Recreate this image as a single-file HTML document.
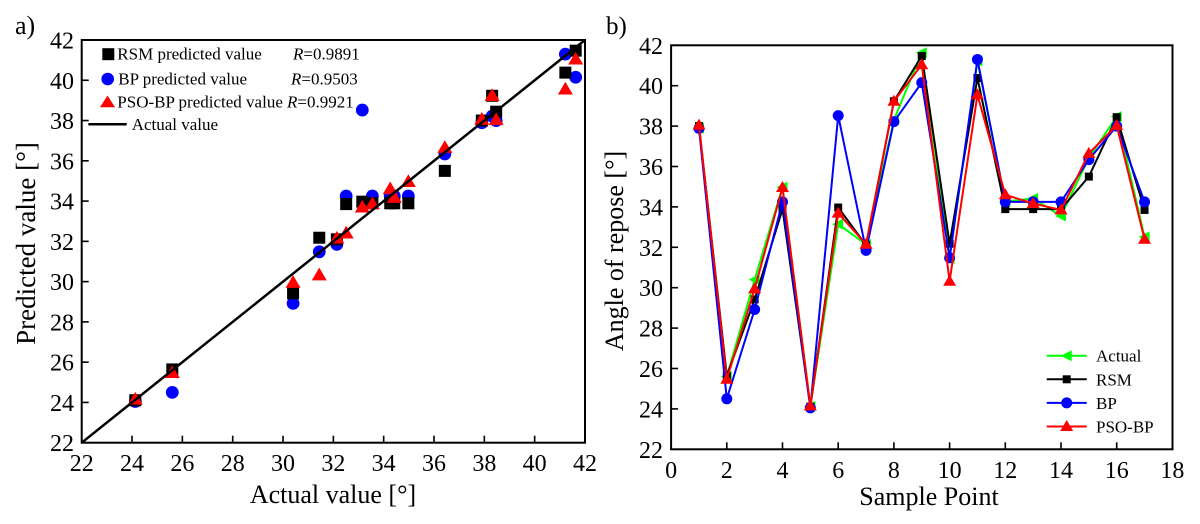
<!DOCTYPE html>
<html><head><meta charset="utf-8"><style>
html,body{margin:0;padding:0;background:#fff;}
svg{display:block;font-family:"Liberation Serif","Times New Roman",serif;}
</style></head><body>
<svg width="1200" height="524" viewBox="0 0 1200 524" xmlns="http://www.w3.org/2000/svg" font-family="'Liberation Serif', 'Times New Roman', serif">
<defs>
<rect id="sqL" x="-6" y="-6" width="12" height="12" fill="#000"/>
<circle id="ciL" cx="0" cy="0" r="6.4" fill="#0000ff"/>
<polygon id="trL" points="0,-7.5 -7.5,5.2 7.5,5.2" fill="#ff0000"/>
<rect id="sqR" x="-4" y="-4" width="8" height="8" fill="#000"/>
<circle id="ciR" cx="0" cy="0" r="5.5" fill="#0000ff"/>
<polygon id="trR" points="0,-6.5 -6.5,4.5 6.5,4.5" fill="#ff0000"/>
<polygon id="gtR" points="-6,0 5,-5.5 5,5.5" fill="#00ff00"/>
</defs>

<!-- ============ LEFT PLOT ============ -->
<text x="15" y="34" font-size="26">a)</text>
<g stroke="#000" stroke-width="1.6">
<line x1="132.03" y1="442.7" x2="132.03" y2="435.7"/>
<line x1="182.36" y1="442.7" x2="182.36" y2="435.7"/>
<line x1="232.69" y1="442.7" x2="232.69" y2="435.7"/>
<line x1="283.02" y1="442.7" x2="283.02" y2="435.7"/>
<line x1="333.35" y1="442.7" x2="333.35" y2="435.7"/>
<line x1="383.68" y1="442.7" x2="383.68" y2="435.7"/>
<line x1="434.01" y1="442.7" x2="434.01" y2="435.7"/>
<line x1="484.34" y1="442.7" x2="484.34" y2="435.7"/>
<line x1="534.67" y1="442.7" x2="534.67" y2="435.7"/>
<line x1="81.7" y1="402.43" x2="88.7" y2="402.43"/>
<line x1="81.7" y1="362.16" x2="88.7" y2="362.16"/>
<line x1="81.7" y1="321.89" x2="88.7" y2="321.89"/>
<line x1="81.7" y1="281.62" x2="88.7" y2="281.62"/>
<line x1="81.7" y1="241.35" x2="88.7" y2="241.35"/>
<line x1="81.7" y1="201.08" x2="88.7" y2="201.08"/>
<line x1="81.7" y1="160.81" x2="88.7" y2="160.81"/>
<line x1="81.7" y1="120.54" x2="88.7" y2="120.54"/>
<line x1="81.7" y1="80.27" x2="88.7" y2="80.27"/>
</g>
<rect x="81.7" y="40" width="503.3" height="402.7" fill="none" stroke="#000" stroke-width="2"/>
<g font-size="24" text-anchor="middle">
<text x="81.7" y="471">22</text>
<text x="132.03" y="471">24</text>
<text x="182.36" y="471">26</text>
<text x="232.69" y="471">28</text>
<text x="283.02" y="471">30</text>
<text x="333.35" y="471">32</text>
<text x="383.68" y="471">34</text>
<text x="434.01" y="471">36</text>
<text x="484.34" y="471">38</text>
<text x="534.67" y="471">40</text>
<text x="585" y="471">42</text>
</g>
<g font-size="24" text-anchor="end">
<text x="74" y="451.2">22</text>
<text x="74" y="410.9">24</text>
<text x="74" y="370.7">26</text>
<text x="74" y="330.4">28</text>
<text x="74" y="290.1">30</text>
<text x="74" y="249.9">32</text>
<text x="74" y="209.6">34</text>
<text x="74" y="169.3">36</text>
<text x="74" y="129">38</text>
<text x="74" y="88.8">40</text>
<text x="74" y="48.5">42</text>
</g>
<text x="333" y="503" font-size="26" text-anchor="middle">Actual value [°]</text>
<text transform="translate(35,243.5) rotate(-90)" font-size="27" text-anchor="middle">Predicted value [°]</text>

<g>
<use href="#ciL" x="481.82" y="122.75"/><use href="#ciL" x="172.29" y="392.36"/><use href="#ciL" x="293.09" y="303.37"/>
<use href="#ciL" x="408.34" y="196.05"/><use href="#ciL" x="135.3" y="401.42"/><use href="#ciL" x="362.29" y="110.07"/>
<use href="#ciL" x="336.87" y="244.37"/><use href="#ciL" x="492.14" y="116.11"/><use href="#ciL" x="575.69" y="77.25"/>
<use href="#ciL" x="319.26" y="251.82"/><use href="#ciL" x="565.37" y="54.09"/><use href="#ciL" x="390.22" y="196.05"/>
<use href="#ciL" x="394.25" y="196.05"/><use href="#ciL" x="372.36" y="196.05"/><use href="#ciL" x="444.83" y="153.96"/>
<use href="#ciL" x="496.17" y="120.54"/><use href="#ciL" x="346.18" y="196.05"/>
</g>
<g>
<use href="#sqL" x="481.82" y="120.54"/><use href="#sqL" x="172.29" y="369.41"/><use href="#sqL" x="293.09" y="293.3"/>
<use href="#sqL" x="408.34" y="203.29"/><use href="#sqL" x="135.3" y="400.22"/><use href="#sqL" x="362.29" y="201.68"/>
<use href="#sqL" x="336.87" y="239.34"/><use href="#sqL" x="492.14" y="95.77"/><use href="#sqL" x="575.69" y="50.67"/>
<use href="#sqL" x="319.26" y="237.73"/><use href="#sqL" x="565.37" y="72.62"/><use href="#sqL" x="390.22" y="203.29"/>
<use href="#sqL" x="394.25" y="203.29"/><use href="#sqL" x="372.36" y="203.29"/><use href="#sqL" x="444.83" y="170.88"/>
<use href="#sqL" x="496.17" y="111.68"/><use href="#sqL" x="346.18" y="204.1"/>
</g>
<g>
<use href="#trL" x="481.82" y="119.53"/><use href="#trL" x="172.29" y="372.83"/><use href="#trL" x="293.09" y="282.63"/>
<use href="#trL" x="408.34" y="181.75"/><use href="#trL" x="135.3" y="399.41"/><use href="#trL" x="362.29" y="207.32"/>
<use href="#trL" x="336.87" y="238.33"/><use href="#trL" x="492.14" y="95.77"/><use href="#trL" x="575.69" y="59.33"/>
<use href="#trL" x="319.26" y="275.18"/><use href="#trL" x="565.37" y="89.33"/><use href="#trL" x="390.22" y="189"/>
<use href="#trL" x="394.25" y="197.66"/><use href="#trL" x="372.36" y="204.1"/><use href="#trL" x="444.83" y="147.72"/>
<use href="#trL" x="496.17" y="119.93"/><use href="#trL" x="346.18" y="233.3"/>
</g>
<line x1="81.7" y1="442.7" x2="585" y2="40" stroke="#000" stroke-width="2.5"/>

<rect x="102.3" y="48.2" width="12" height="12" fill="#000"/>
<circle cx="107.7" cy="79" r="6.3" fill="#0000ff"/>
<polygon points="107.5,95.5 100,107.3 115,107.3" fill="#ff0000"/>
<line x1="88.3" y1="124.3" x2="126.7" y2="124.3" stroke="#000" stroke-width="2.5"/>
<g font-size="17">
<text x="117.3" y="59.3">RSM predicted value</text>
<text x="293" y="59.3"><tspan font-style="italic">R</tspan>=0.9891</text>
<text x="118.3" y="84.3">BP predicted value</text>
<text x="291" y="84.3"><tspan font-style="italic">R</tspan>=0.9503</text>
<text x="117.3" y="107.3">PSO-BP predicted value</text>
<text x="287" y="107.3"><tspan font-style="italic">R</tspan>=0.9921</text>
<text x="131.7" y="130">Actual value</text>
</g>

<!-- ============ RIGHT PLOT ============ -->
<text x="606" y="34" font-size="25">b)</text>
<g stroke="#000" stroke-width="1.6">
<line x1="726.8" y1="449.3" x2="726.8" y2="442.3"/>
<line x1="782.5" y1="449.3" x2="782.5" y2="442.3"/>
<line x1="838.2" y1="449.3" x2="838.2" y2="442.3"/>
<line x1="893.9" y1="449.3" x2="893.9" y2="442.3"/>
<line x1="949.6" y1="449.3" x2="949.6" y2="442.3"/>
<line x1="1005.3" y1="449.3" x2="1005.3" y2="442.3"/>
<line x1="1061" y1="449.3" x2="1061" y2="442.3"/>
<line x1="1116.7" y1="449.3" x2="1116.7" y2="442.3"/>
<line x1="671.1" y1="408.9" x2="678.1" y2="408.9"/>
<line x1="671.1" y1="368.5" x2="678.1" y2="368.5"/>
<line x1="671.1" y1="328.1" x2="678.1" y2="328.1"/>
<line x1="671.1" y1="287.7" x2="678.1" y2="287.7"/>
<line x1="671.1" y1="247.3" x2="678.1" y2="247.3"/>
<line x1="671.1" y1="206.9" x2="678.1" y2="206.9"/>
<line x1="671.1" y1="166.5" x2="678.1" y2="166.5"/>
<line x1="671.1" y1="126.1" x2="678.1" y2="126.1"/>
<line x1="671.1" y1="85.7" x2="678.1" y2="85.7"/>
</g>
<rect x="671.1" y="45.3" width="501.4" height="404" fill="none" stroke="#000" stroke-width="2"/>
<g font-size="24" text-anchor="middle">
<text x="671.1" y="478">0</text>
<text x="726.8" y="478">2</text>
<text x="782.5" y="478">4</text>
<text x="838.2" y="478">6</text>
<text x="893.9" y="478">8</text>
<text x="949.6" y="478">10</text>
<text x="1005.3" y="478">12</text>
<text x="1061" y="478">14</text>
<text x="1116.7" y="478">16</text>
<text x="1172.4" y="478">18</text>
</g>
<g font-size="24" text-anchor="end">
<text x="663" y="457.8">22</text>
<text x="663" y="417.4">24</text>
<text x="663" y="377">26</text>
<text x="663" y="336.6">28</text>
<text x="663" y="296.2">30</text>
<text x="663" y="255.8">32</text>
<text x="663" y="215.4">34</text>
<text x="663" y="175">36</text>
<text x="663" y="134.6">38</text>
<text x="663" y="94.2">40</text>
<text x="663" y="53.8">42</text>
</g>
<text x="929" y="505" font-size="26" text-anchor="middle">Sample Point</text>
<text transform="translate(623,251) rotate(-90)" font-size="26" text-anchor="middle">Angle of repose [°]</text>

<polyline fill="none" stroke="#00ff00" stroke-width="2" stroke-linejoin="round" points="699,128.12 726.8,376.58 754.65,279.62 782.5,187.1 810.35,406.27 838.2,224.07 866.05,244.47 893.9,119.84 921.75,52.77 949.6,258.61 977.45,61.06 1005.3,201.65 1033.15,198.42 1061,215.99 1088.85,157.81 1116.7,116.61 1144.55,237"/>
<g>
<use href="#gtR" x="699" y="128.12"/><use href="#gtR" x="726.8" y="376.58"/><use href="#gtR" x="754.65" y="279.62"/>
<use href="#gtR" x="782.5" y="187.1"/><use href="#gtR" x="810.35" y="406.27"/><use href="#gtR" x="838.2" y="224.07"/>
<use href="#gtR" x="866.05" y="244.47"/><use href="#gtR" x="893.9" y="119.84"/><use href="#gtR" x="921.75" y="52.77"/>
<use href="#gtR" x="949.6" y="258.61"/><use href="#gtR" x="977.45" y="61.06"/><use href="#gtR" x="1005.3" y="201.65"/>
<use href="#gtR" x="1033.15" y="198.42"/><use href="#gtR" x="1061" y="215.99"/><use href="#gtR" x="1088.85" y="157.81"/>
<use href="#gtR" x="1116.7" y="116.61"/><use href="#gtR" x="1144.55" y="237"/>
</g>
<polyline fill="none" stroke="#000" stroke-width="2" stroke-linejoin="round" points="699,126.1 726.8,375.77 754.65,299.42 782.5,209.12 810.35,406.68 838.2,207.51 866.05,245.28 893.9,101.25 921.75,56.01 949.6,243.66 977.45,78.02 1005.3,209.12 1033.15,209.12 1061,209.12 1088.85,176.6 1116.7,117.21 1144.55,209.93"/>
<g>
<use href="#sqR" x="699" y="126.1"/><use href="#sqR" x="726.8" y="375.77"/><use href="#sqR" x="754.65" y="299.42"/>
<use href="#sqR" x="782.5" y="209.12"/><use href="#sqR" x="810.35" y="406.68"/><use href="#sqR" x="838.2" y="207.51"/>
<use href="#sqR" x="866.05" y="245.28"/><use href="#sqR" x="893.9" y="101.25"/><use href="#sqR" x="921.75" y="56.01"/>
<use href="#sqR" x="949.6" y="243.66"/><use href="#sqR" x="977.45" y="78.02"/><use href="#sqR" x="1005.3" y="209.12"/>
<use href="#sqR" x="1033.15" y="209.12"/><use href="#sqR" x="1061" y="209.12"/><use href="#sqR" x="1088.85" y="176.6"/>
<use href="#sqR" x="1116.7" y="117.21"/><use href="#sqR" x="1144.55" y="209.93"/>
</g>
<polyline fill="none" stroke="#0000ff" stroke-width="2" stroke-linejoin="round" points="699,128.32 726.8,398.8 754.65,309.52 782.5,201.85 810.35,407.89 838.2,115.6 866.05,250.33 893.9,121.66 921.75,82.67 949.6,257.8 977.45,59.44 1005.3,201.85 1033.15,201.85 1061,201.85 1088.85,159.63 1116.7,126.1 1144.55,201.85"/>
<g>
<use href="#ciR" x="699" y="128.32"/><use href="#ciR" x="726.8" y="398.8"/><use href="#ciR" x="754.65" y="309.52"/>
<use href="#ciR" x="782.5" y="201.85"/><use href="#ciR" x="810.35" y="407.89"/><use href="#ciR" x="838.2" y="115.6"/>
<use href="#ciR" x="866.05" y="250.33"/><use href="#ciR" x="893.9" y="121.66"/><use href="#ciR" x="921.75" y="82.67"/>
<use href="#ciR" x="949.6" y="257.8"/><use href="#ciR" x="977.45" y="59.44"/><use href="#ciR" x="1005.3" y="201.85"/>
<use href="#ciR" x="1033.15" y="201.85"/><use href="#ciR" x="1061" y="201.85"/><use href="#ciR" x="1088.85" y="159.63"/>
<use href="#ciR" x="1116.7" y="126.1"/><use href="#ciR" x="1144.55" y="201.85"/>
</g>
<polyline fill="none" stroke="#ff0000" stroke-width="2" stroke-linejoin="round" points="699,125.09 726.8,379.21 754.65,288.71 782.5,187.51 810.35,405.87 838.2,213.16 866.05,244.27 893.9,101.25 921.75,64.69 949.6,281.24 977.45,94.79 1005.3,194.78 1033.15,203.47 1061,209.93 1088.85,153.37 1116.7,125.49 1144.55,239.22"/>
<g>
<use href="#trR" x="699" y="125.09"/><use href="#trR" x="726.8" y="379.21"/><use href="#trR" x="754.65" y="288.71"/>
<use href="#trR" x="782.5" y="187.51"/><use href="#trR" x="810.35" y="405.87"/><use href="#trR" x="838.2" y="213.16"/>
<use href="#trR" x="866.05" y="244.27"/><use href="#trR" x="893.9" y="101.25"/><use href="#trR" x="921.75" y="64.69"/>
<use href="#trR" x="949.6" y="281.24"/><use href="#trR" x="977.45" y="94.79"/><use href="#trR" x="1005.3" y="194.78"/>
<use href="#trR" x="1033.15" y="203.47"/><use href="#trR" x="1061" y="209.93"/><use href="#trR" x="1088.85" y="153.37"/>
<use href="#trR" x="1116.7" y="125.49"/><use href="#trR" x="1144.55" y="239.22"/>
</g>

<line x1="1046.7" y1="355.7" x2="1086.7" y2="355.7" stroke="#00ff00" stroke-width="2"/>
<use href="#gtR" x="1066.7" y="355.7"/>
<line x1="1046.7" y1="379.3" x2="1086.7" y2="379.3" stroke="#000" stroke-width="2"/>
<use href="#sqR" x="1066.7" y="379.3"/>
<line x1="1046.7" y1="402.9" x2="1086.7" y2="402.9" stroke="#0000ff" stroke-width="2"/>
<use href="#ciR" x="1066.7" y="402.9"/>
<line x1="1046.7" y1="426.5" x2="1086.7" y2="426.5" stroke="#ff0000" stroke-width="2"/>
<use href="#trR" x="1066.7" y="426.5"/>
<g font-size="17">
<text x="1096" y="361.7">Actual</text>
<text x="1096" y="385.3">RSM</text>
<text x="1096" y="408.9">BP</text>
<text x="1096" y="432.5">PSO-BP</text>
</g>
</svg>
</body></html>
